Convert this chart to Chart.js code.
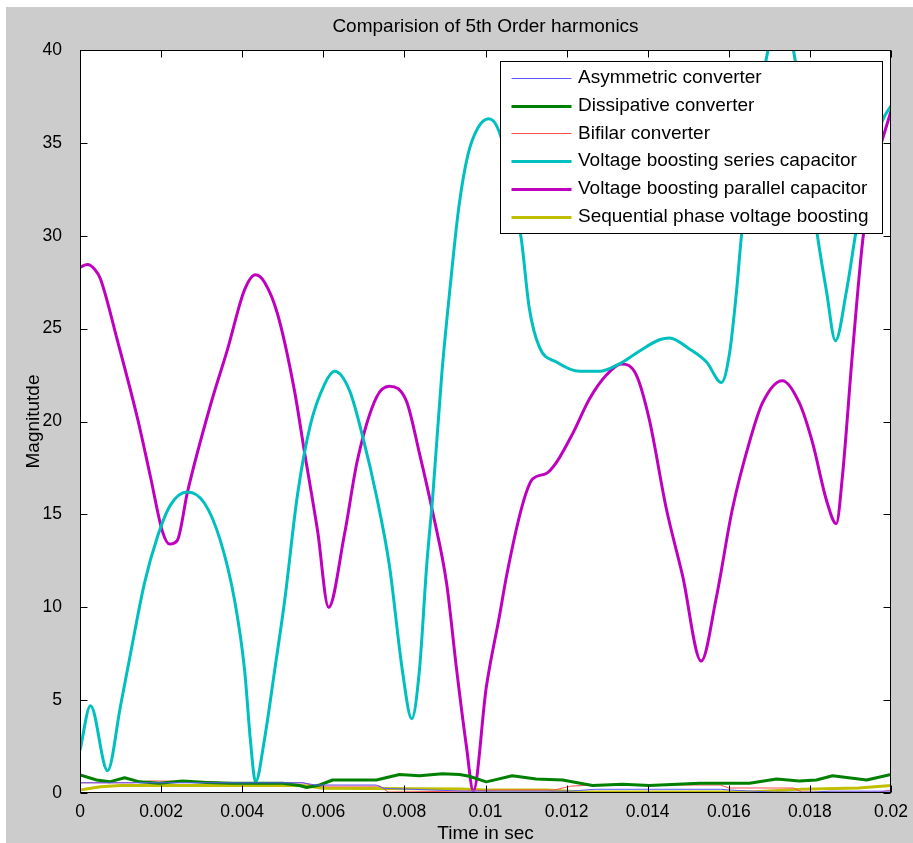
<!DOCTYPE html>
<html>
<head>
<meta charset="utf-8">
<script src="https://cdn.jsdelivr.net/npm/chart.js@4.4.1/dist/chart.umd.min.js"></script>
<style>
  html, body { margin: 0; padding: 0; background: #ffffff; }
  canvas { display: block; }
</style>
</head>
<body>
<canvas id="myChart" width="913" height="843"></canvas>
<script>
// DATA
const seriesNames = [
  'Asymmetric converter',
  'Dissipative converter',
  'Bifilar converter',
  'Voltage boosting series capacitor',
  'Voltage boosting parallel capacitor',
  'Sequential phase voltage boosting'
];

const asymX = [0, 0.0055, 0.0058, 0.0073, 0.0075, 0.0095, 0.0121, 0.0127, 0.0158, 0.0161, 0.0171, 0.0181, 0.0185, 0.02];
const asymY = [0.55, 0.55, 0.43, 0.43, 0.25, 0.1, 0.1, 0.2, 0.2, 0.15, 0.05, 0.05, 0.1, 0.1];

const dissX = [0, 0.00041, 0.00073, 0.0011, 0.00147, 0.00196, 0.00253, 0.00312, 0.00376, 0.005,
  0.00541, 0.00559, 0.00591, 0.00623, 0.00731, 0.00788, 0.00837, 0.00894, 0.00936, 0.0096,
  0.01002, 0.01066, 0.01125, 0.0119, 0.01264, 0.01338, 0.01404, 0.01528, 0.01651, 0.01718,
  0.01774, 0.01816, 0.01856, 0.0194, 0.02];
const dissY = [0.97, 0.7, 0.6, 0.82, 0.6, 0.52, 0.64, 0.57, 0.52, 0.52,
  0.4, 0.3, 0.43, 0.7, 0.7, 1.0, 0.93, 1.04, 1.0, 0.9,
  0.6, 0.93, 0.75, 0.7, 0.4, 0.47, 0.4, 0.52, 0.52, 0.75,
  0.64, 0.7, 0.93, 0.7, 1.0];

const bifX = [0, 0.0013, 0.0017, 0.0032, 0.0036, 0.0055, 0.0058, 0.0074, 0.0076, 0.0095,
  0.0103, 0.0117, 0.0121, 0.0127, 0.0158, 0.016, 0.0176, 0.0178, 0.0197, 0.02];
const bifY = [0.55, 0.55, 0.65, 0.62, 0.55, 0.55, 0.37, 0.37, 0.05, 0.1,
  0.16, 0.16, 0.37, 0.43, 0.43, 0.27, 0.27, 0.05, 0.05, 0.16];

const seriesCapX = [0, 0.00026, 0.00068, 0.001, 0.00125, 0.00159, 0.00191, 0.00223, 0.00265, 0.00307,
  0.00346, 0.00381, 0.00406, 0.0042, 0.00433, 0.00455, 0.0048, 0.00505, 0.00536, 0.00568,
  0.00603, 0.00628, 0.00665, 0.00697, 0.00731, 0.00763, 0.00795, 0.00818, 0.00837, 0.00855,
  0.0087, 0.00892, 0.00914, 0.00934, 0.00956, 0.00981, 0.01008, 0.0103, 0.01059, 0.01089,
  0.01108, 0.01133, 0.01175, 0.01232, 0.01281, 0.0133, 0.0138, 0.01429, 0.01454, 0.01503,
  0.01545, 0.01582, 0.01602, 0.01619, 0.01631, 0.01663, 0.01695, 0.01727, 0.01767, 0.01794,
  0.01819, 0.01841, 0.01863, 0.0189, 0.01915, 0.0194, 0.01979, 0.02];
const seriesCapY = [2.3, 4.7, 1.2, 4.7, 7.55, 11.3, 13.8, 15.5, 16.2, 15.6,
  13.6, 10.4, 6.6, 2.9, 0.6, 2.9, 6.6, 10.4, 16.0, 19.8,
  22.0, 22.7, 21.65, 19.2, 16.0, 12.25, 6.6, 4.0, 6.6, 12.25,
  16.0, 22.5, 27.5, 31.5, 34.3, 35.8, 36.3, 35.8, 33.5, 29.7,
  26.1, 24.0, 23.2, 22.7, 22.7, 23.1, 23.8, 24.4, 24.5, 23.9,
  23.2, 22.1, 23.7, 27.0, 29.95, 36, 39.8, 42.5, 39.0, 34,
  29.95, 27.0, 24.35, 27.0, 30.4, 33.3, 36.2, 37.0];

const parCapX = [0, 0.00018, 0.00036, 0.0005, 0.00093, 0.00142, 0.00174, 0.00203, 0.00221, 0.0024, 0.00265,
  0.00322, 0.00364, 0.00406, 0.00433, 0.00455, 0.00487, 0.00529, 0.00554, 0.00586, 0.00613,
  0.00652, 0.00684, 0.00731, 0.00763, 0.00805, 0.00837, 0.0087, 0.00904, 0.00929, 0.00953,
  0.0097, 0.01002, 0.01035, 0.01052, 0.01091, 0.01116, 0.0115, 0.01175, 0.01215, 0.01256,
  0.01298, 0.01335, 0.01372, 0.01404, 0.01446, 0.01486, 0.01532, 0.01569, 0.01609, 0.01651,
  0.01683, 0.01732, 0.01774, 0.01806, 0.01841, 0.01865, 0.0188, 0.01905, 0.0193, 0.01954,
  0.01979, 0.02];
const parCapY = [28.3, 28.45, 28.2, 27.7, 24.3, 20.15, 17.0, 14.1, 13.4, 13.6, 16.2,
  20.9, 23.9, 27.1, 27.9, 27.5, 25.8, 21.65, 18.3, 14.1, 10.0,
  13.9, 17.9, 21.3, 21.9, 21.1, 18.3, 15.1, 11.3, 6.6, 2.5,
  0.1, 5.7, 9.6, 11.7, 15.5, 16.9, 17.2, 17.8, 19.35, 21.2,
  22.5, 23.1, 22.5, 20.1, 15.3, 11.7, 7.1, 10.5, 15.3, 18.9,
  21.0, 22.2, 21.0, 18.9, 15.75, 14.5, 17.0, 23.7, 29.7, 33.3,
  35.2, 36.7];

const seqX = [0, 0.0005, 0.001, 0.0055, 0.006, 0.0094, 0.01, 0.0115, 0.0124, 0.0165, 0.0178, 0.0192, 0.02];
const seqY = [0.16, 0.34, 0.4, 0.4, 0.25, 0.22, 0.16, 0.16, 0.05, 0.05, 0.2, 0.27, 0.4];

const xTicks = [0, 0.002, 0.004, 0.006, 0.008, 0.01, 0.012, 0.014, 0.016, 0.018, 0.02];
const yTicks = [0, 5, 10, 15, 20, 25, 30, 35, 40];

function toPoints(xs, ys) {
  return xs.map((x, i) => ({ x: x, y: ys[i] }));
}

// BACKGROUND, AXES BOX AND LEGEND
const matlabLook = {
  id: 'matlabLook',
  beforeDraw(chart) {
    const ctx = chart.ctx;
    const a = chart.chartArea;
    ctx.save();
    ctx.fillStyle = '#ffffff';
    ctx.fillRect(0, 0, chart.width, chart.height);
    ctx.fillStyle = '#cccccc';
    ctx.fillRect(6, 7, chart.width - 6, chart.height - 7);
    ctx.fillStyle = '#ffffff';
    ctx.fillRect(a.left, a.top, a.right - a.left, a.bottom - a.top);
    ctx.restore();
  },
  afterDatasetsDraw(chart) {
    const ctx = chart.ctx;
    const a = chart.chartArea;
    const xs = chart.scales.x;
    const ys = chart.scales.y;
    const L = Math.round(a.left) + 0.5, R = Math.round(a.right) - 0.5;
    const T = Math.round(a.top) + 0.5, B = Math.round(a.bottom) - 0.5;
    ctx.save();
    ctx.strokeStyle = '#000000';
    ctx.lineWidth = 1;
    ctx.beginPath();
    xTicks.forEach(v => {
      const px = Math.round(xs.getPixelForValue(v)) + 0.5;
      ctx.moveTo(px, B); ctx.lineTo(px, B - 7);
      ctx.moveTo(px, T); ctx.lineTo(px, T + 7);
    });
    yTicks.forEach(v => {
      const py = Math.round(ys.getPixelForValue(v)) + 0.5;
      ctx.moveTo(L, py); ctx.lineTo(L + 7, py);
      ctx.moveTo(R, py); ctx.lineTo(R - 7, py);
    });
    ctx.stroke();
    ctx.strokeRect(L, T, R - L, B - T);

    // legend box
    const lw = 382, lh = 172;
    const lx = Math.round(a.right - 9 - lw) + 0.5;
    const ly = Math.round(a.top + 11) + 0.5;
    ctx.fillStyle = '#ffffff';
    ctx.fillRect(lx, ly, lw, lh);
    ctx.strokeRect(lx, ly, lw, lh);
    ctx.font = '19px "Liberation Sans", Arial, sans-serif';
    ctx.textBaseline = 'middle';
    ctx.textAlign = 'left';
    chart.data.datasets.forEach((ds, i) => {
      const cy = ly + 16.5 + i * 27.7;
      ctx.strokeStyle = ds.borderColor;
      ctx.lineWidth = ds.borderWidth;
      ctx.beginPath();
      ctx.moveTo(lx + 11, Math.round(cy) + 0.5);
      ctx.lineTo(lx + 71, Math.round(cy) + 0.5);
      ctx.stroke();
      ctx.fillStyle = '#000000';
      ctx.fillText(ds.label, lx + 77.5, cy);
    });
    ctx.restore();
  }
};

const tickFont = { family: '"Liberation Sans", Arial, sans-serif', size: 17.5 };
const titleFont = { family: '"Liberation Sans", Arial, sans-serif', size: 19 };

let myChart = document.getElementById('myChart').getContext('2d');
new Chart(myChart, {
  type: 'line',
  data: {
    datasets: [
      { label: seriesNames[0], data: toPoints(asymX, asymY), borderColor: '#5a5aff', borderWidth: 1, tension: 0 },
      { label: seriesNames[1], data: toPoints(dissX, dissY), borderColor: '#008000', borderWidth: 3, tension: 0 },
      { label: seriesNames[2], data: toPoints(bifX, bifY), borderColor: '#ff5050', borderWidth: 1, tension: 0 },
      { label: seriesNames[3], data: toPoints(seriesCapX, seriesCapY), borderColor: '#00bfbf', borderWidth: 3, cubicInterpolationMode: 'monotone' },
      { label: seriesNames[4], data: toPoints(parCapX, parCapY), borderColor: '#bf00bf', borderWidth: 3, cubicInterpolationMode: 'monotone' },
      { label: seriesNames[5], data: toPoints(seqX, seqY), borderColor: '#bfbf00', borderWidth: 3, tension: 0 }
    ]
  },
  options: {
    responsive: false,
    animation: false,
    devicePixelRatio: 1,
    layout: { padding: { left: 0, right: 22, top: 0, bottom: 0 } },
    elements: { point: { radius: 0, hoverRadius: 0 }, line: { borderJoinStyle: 'round', borderCapStyle: 'round' } },
    plugins: {
      legend: { display: false },
      tooltip: { enabled: false },
      title: {
        display: true,
        fullSize: false,
        text: 'Comparision of 5th Order harmonics',
        color: '#000000',
        font: { family: '"Liberation Sans", Arial, sans-serif', size: 19, weight: 'normal', lineHeight: 1.2 },
        padding: { top: 15, bottom: 12.2 }
      }
    },
    scales: {
      x: {
        type: 'linear',
        min: 0,
        max: 0.02,
        grid: { display: false },
        border: { display: false },
        afterFit(scale) { scale.height = 50; },
        afterBuildTicks(scale) { scale.ticks = xTicks.map(v => ({ value: v })); },
        ticks: {
          color: '#000000',
          font: tickFont,
          padding: 1,
          maxRotation: 0,
          autoSkip: false,
          callback: v => String(+v.toFixed(3))
        },
        title: { display: true, text: 'Time in sec', color: '#000000', font: titleFont, padding: { top: 0, bottom: -2.5 } }
      },
      y: {
        min: 0,
        max: 40,
        grid: { display: false },
        border: { display: false },
        afterFit(scale) { scale.width = 80; },
        afterBuildTicks(scale) { scale.ticks = yTicks.map(v => ({ value: v })); },
        ticks: { color: '#000000', font: tickFont, padding: 10 },
        title: { display: true, text: 'Magnitutde', color: '#000000', font: titleFont, padding: { top: 22, bottom: 0 } }
      }
    }
  },
  plugins: [matlabLook]
});
</script>
</body>
</html>
